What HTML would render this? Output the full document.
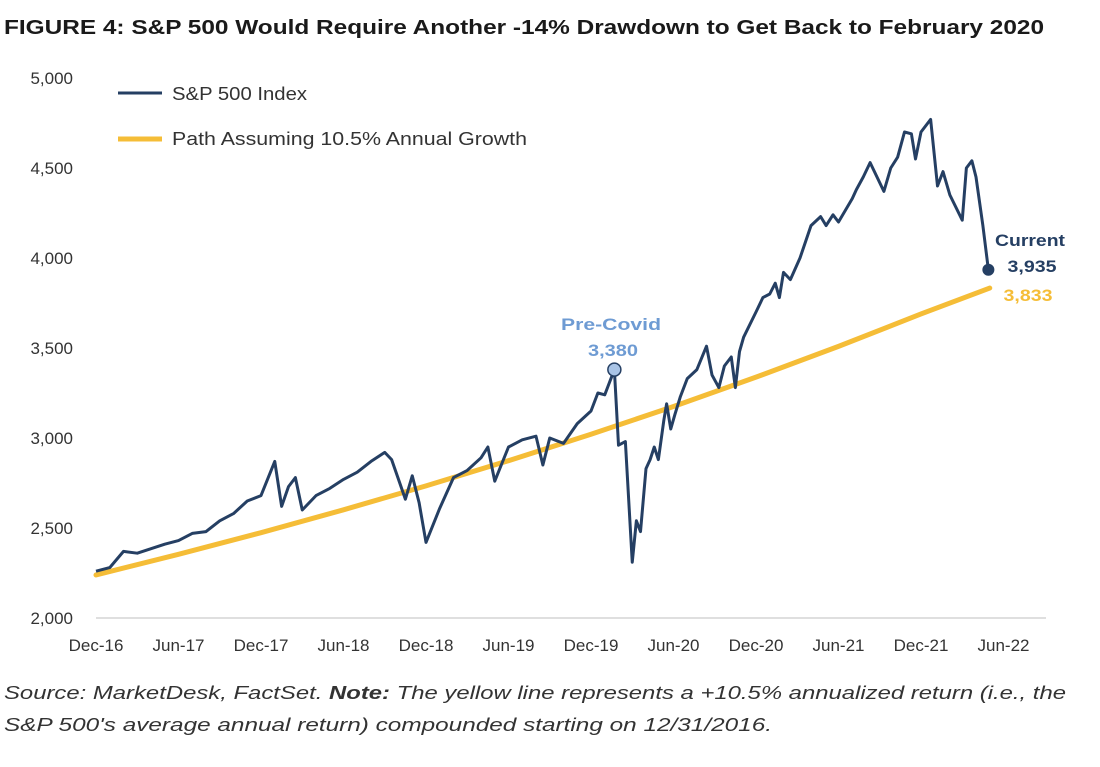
<!DOCTYPE html>
<html><head><meta charset="utf-8"><style>
body{margin:0;background:#fff;width:1100px;height:762px;overflow:hidden;font-family:"Liberation Sans",sans-serif}
</style></head><body>
<svg width="1100" height="762" xmlns="http://www.w3.org/2000/svg">
<text x="4" y="34" font-size="20" font-weight="bold" fill="#1a1a1a" textLength="1040" lengthAdjust="spacingAndGlyphs">FIGURE 4: S&amp;P 500 Would Require Another -14% Drawdown to Get Back to February 2020</text>
<g id="yax"></g>
<g id="xax"></g>
<line x1="96" y1="618" x2="1046" y2="618" stroke="#bfbfbf" stroke-width="1"/>
<g id="plot"></g>
<g>
<line x1="118" y1="93" x2="162" y2="93" stroke="#253f63" stroke-width="3"/>
<text x="172" y="100" font-size="18" fill="#333" textLength="135" lengthAdjust="spacingAndGlyphs">S&amp;P 500 Index</text>
<line x1="118" y1="139" x2="162" y2="139" stroke="#f5bd37" stroke-width="5"/>
<text x="172" y="145" font-size="18" fill="#333" textLength="355" lengthAdjust="spacingAndGlyphs">Path Assuming 10.5% Annual Growth</text>
</g>
<text x="611" y="330" font-size="17" font-weight="bold" fill="#6e9bd3" text-anchor="middle" textLength="100" lengthAdjust="spacingAndGlyphs">Pre-Covid</text>
<text x="613" y="356" font-size="17" font-weight="bold" fill="#6e9bd3" text-anchor="middle" textLength="50" lengthAdjust="spacingAndGlyphs">3,380</text>
<text x="1030" y="246" font-size="17" font-weight="bold" fill="#253f63" text-anchor="middle" textLength="70" lengthAdjust="spacingAndGlyphs">Current</text>
<text x="1032" y="272" font-size="17" font-weight="bold" fill="#253f63" text-anchor="middle" textLength="49" lengthAdjust="spacingAndGlyphs">3,935</text>
<text x="1028" y="301" font-size="17" font-weight="bold" fill="#f5bd37" text-anchor="middle" textLength="49" lengthAdjust="spacingAndGlyphs">3,833</text>
<text x="4" y="699" font-size="18.5" font-style="italic" fill="#333" textLength="1062" lengthAdjust="spacingAndGlyphs">Source: MarketDesk, FactSet. <tspan font-weight="bold">Note:</tspan> The yellow line represents a +10.5% annualized return (i.e., the</text>
<text x="4" y="731" font-size="18.5" font-style="italic" fill="#333" textLength="768" lengthAdjust="spacingAndGlyphs">S&amp;P 500's average annual return) compounded starting on 12/31/2016.</text>
</svg>
<script>
const yTicks=[2000,2500,3000,3500,4000,4500,5000];
const xTickLabels=["Dec-16","Jun-17","Dec-17","Jun-18","Dec-18","Jun-19","Dec-19","Jun-20","Dec-20","Jun-21","Dec-21","Jun-22"];
const spMonths=[0,1,2,3,4,5,6,7,8,9,10,11,12,13,13.5,14,14.5,15,16,17,18,19,20,21,21.5,22,22.5,23,23.5,24,25,26,27,28,28.5,29,30,31,32,32.5,33,34,35,36,36.5,37,37.3,37.7,38,38.5,39,39.3,39.6,40,40.3,40.6,40.9,41.3,41.5,41.8,42.1,42.5,43,43.7,44.4,44.8,45.3,45.7,46.2,46.5,46.8,47.1,48,48.5,49,49.4,49.7,50,50.5,51.2,52,52.7,53.1,53.6,54,55,55.3,55.8,56.3,56.8,57.3,57.8,58.3,58.8,59.3,59.6,60,60.7,61.2,61.6,62.1,63,63.3,63.7,64,64.5,64.9];
const spValues=[2260,2280,2370,2360,2385,2410,2430,2470,2480,2540,2580,2650,2680,2870,2620,2730,2780,2600,2680,2720,2770,2810,2870,2920,2880,2770,2660,2790,2640,2420,2610,2780,2820,2890,2950,2760,2950,2990,3010,2850,3000,2970,3080,3150,3250,3240,3300,3380,2960,2980,2310,2540,2480,2830,2880,2950,2880,3100,3190,3050,3130,3230,3330,3380,3510,3350,3280,3400,3450,3280,3480,3560,3700,3780,3800,3860,3780,3920,3880,4000,4180,4230,4180,4240,4200,4330,4380,4450,4530,4450,4370,4500,4560,4700,4690,4550,4700,4770,4400,4480,4350,4210,4500,4540,4450,4180,3935];
const pathMonths=[0,6,12,18,24,30,36,42,48,54,60,65];
const pathValues=[2239,2354,2474,2601,2734,2874,3021,3175,3338,3509,3689,3833];
const NS="http://www.w3.org/2000/svg";
const X=t=>96+t*13.75, Y=v=>618-(v-2000)*0.18;
function mk(tag,attrs,parent,txt){const e=document.createElementNS(NS,tag);for(const k in attrs)e.setAttribute(k,attrs[k]);if(txt!==undefined)e.textContent=txt;parent.appendChild(e);return e;}
const yax=document.getElementById('yax'),xax=document.getElementById('xax'),plot=document.getElementById('plot');
yTicks.forEach(v=>{const t=mk('text',{x:73,y:Y(v)+6,'font-size':17,fill:'#333','text-anchor':'end'},yax,v.toLocaleString('en-US'));

});
xTickLabels.forEach((s,i)=>{const t=mk('text',{x:X(i*6),y:651,'font-size':17,fill:'#333','text-anchor':'middle'},xax,s);

});
const pp=mk('polyline',{points:pathMonths.map((m,i)=>X(m)+','+Y(pathValues[i])).join(' '),fill:'none',stroke:'#f5bd37','stroke-width':5,'stroke-linejoin':'round','stroke-linecap':'round'},plot);


const n=Math.min(spMonths.length,spValues.length);
const sp=mk('polyline',{points:spMonths.slice(0,n).map((m,i)=>X(m)+','+Y(spValues[i])).join(' '),fill:'none',stroke:'#253f63','stroke-width':3,'stroke-linejoin':'round'},plot);


const pk=spValues.indexOf(Math.max(...spValues.slice(0,55)));
const c1=mk('circle',{cx:X(spMonths[pk]),cy:Y(spValues[pk]),r:6.5,fill:'#a9c4e6',stroke:'#253f63','stroke-width':1.5},plot);


const L=n-1;
const c2=mk('circle',{cx:X(spMonths[L]),cy:Y(spValues[L]),r:6,fill:'#253f63'},plot);


</script>
</body></html>
